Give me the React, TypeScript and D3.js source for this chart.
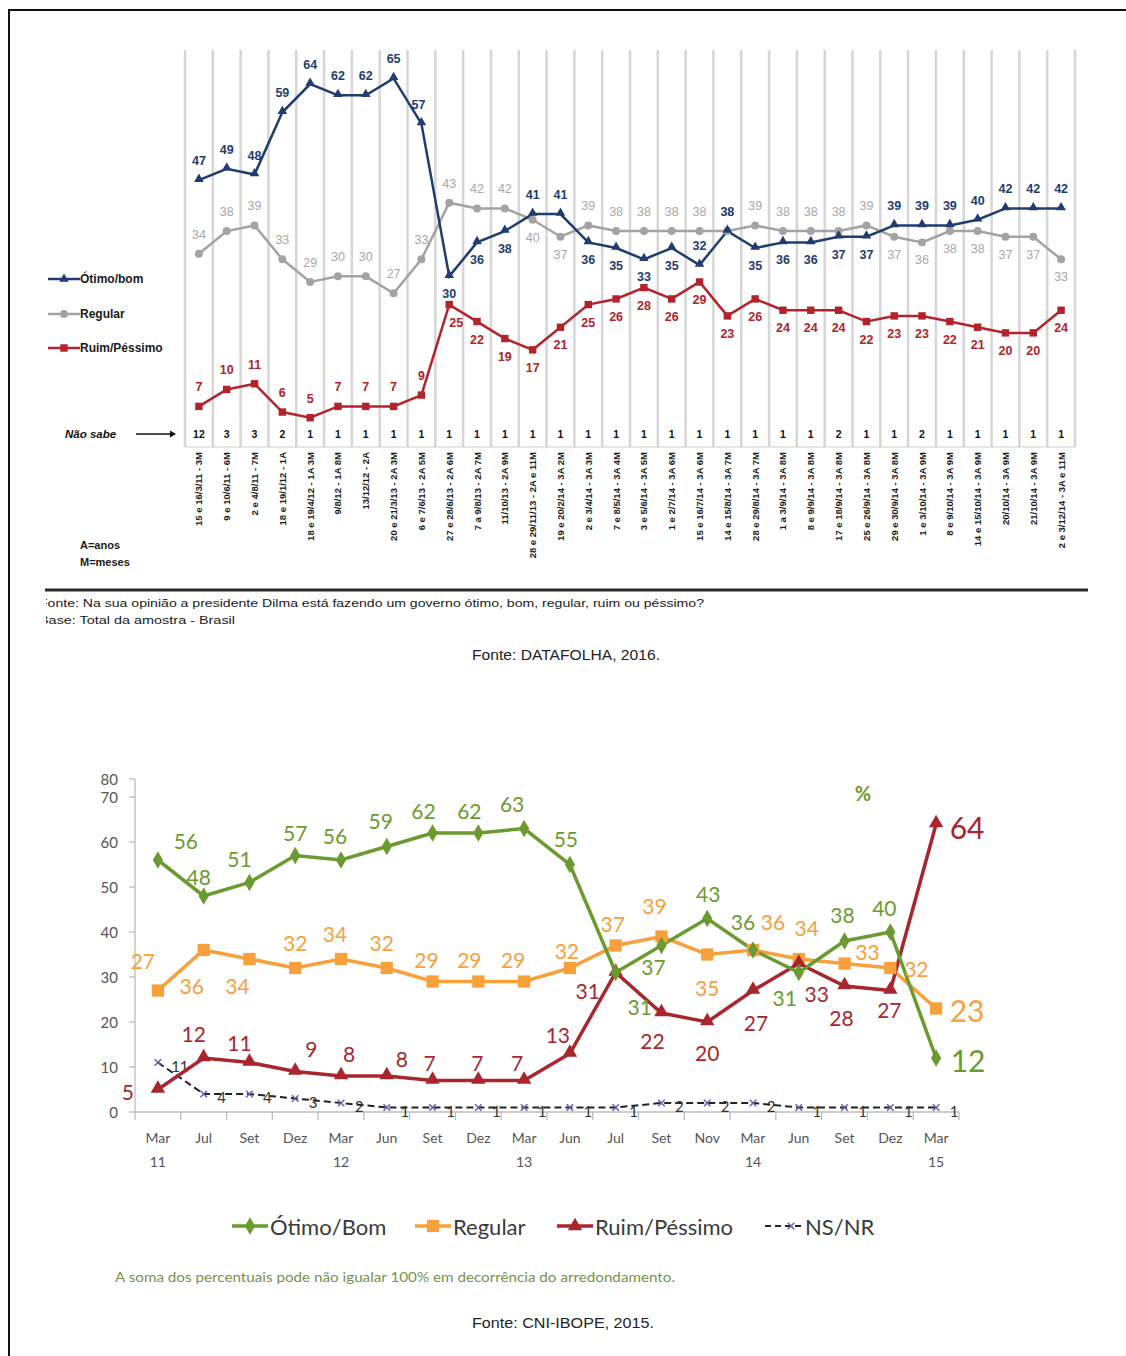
import React from "react";
import * as d3 from "d3";

// ---------- Top chart data (Datafolha) ----------
const topDates = [
  "15 e 16/3/11 - 3M", "9 e 10/6/11 - 6M", "2 e 4/8/11 - 7M", "18 e 19/1/12 - 1A",
  "18 e 19/4/12 - 1A 3M", "9/8/12 - 1A 8M", "13/12/12 - 2A", "20 e 21/3/13 - 2A 3M",
  "6 e 7/6/13 - 2A 5M", "27 e 28/6/13 - 2A 6M", "7 a 9/8/13 - 2A 7M", "11/10/13 - 2A 9M",
  "28 e 29/11/13 - 2A e 11M", "19 e 20/2/14 - 3A 2M", "2 e 3/4/14 - 3A 3M", "7 e 8/5/14 - 3A 4M",
  "3 e 5/6/14 - 3A 5M", "1 e 2/7/14 - 3A 6M", "15 e 16/7/14 - 3A 6M", "14 e 15/8/14 - 3A 7M",
  "28 e 29/8/14 - 3A 7M", "1 a 3/9/14 - 3A 8M", "8 e 9/9/14 - 3A 8M", "17 e 18/9/14 - 3A 8M",
  "25 e 26/9/14 - 3A 8M", "29 e 30/9/14 - 3A 8M", "1 e 3/10/14 - 3A 9M", "8 e 9/10/14 - 3A 9M",
  "14 e 15/10/14 - 3A 9M", "20/10/14 - 3A 9M", "21/10/14 - 3A 9M", "2 e 3/12/14 - 3A e 11M",
];
const topOtimo = [47, 49, 48, 59, 64, 62, 62, 65, 57, 30, 36, 38, 41, 41, 36, 35, 33, 35, 32, 38, 35, 36, 36, 37, 37, 39, 39, 39, 40, 42, 42, 42];
const topRegular = [34, 38, 39, 33, 29, 30, 30, 27, 33, 43, 42, 42, 40, 37, 39, 38, 38, 38, 38, 38, 39, 38, 38, 38, 39, 37, 36, 38, 38, 37, 37, 33];
const topRuim = [7, 10, 11, 6, 5, 7, 7, 7, 9, 25, 22, 19, 17, 21, 25, 26, 28, 26, 29, 23, 26, 24, 24, 24, 22, 23, 23, 22, 21, 20, 20, 24];
const topNaoSabe = [12, 3, 3, 2, 1, 1, 1, 1, 1, 1, 1, 1, 1, 1, 1, 1, 1, 1, 1, 1, 1, 1, 1, 2, 1, 1, 2, 1, 1, 1, 1, 1];
const topSeriesNames = ["Ótimo/bom", "Regular", "Ruim/Péssimo"];

// ---------- Bottom chart data (CNI-IBOPE) ----------
const bottomMonths = ["Mar", "Jul", "Set", "Dez", "Mar", "Jun", "Set", "Dez", "Mar", "Jun", "Jul", "Set", "Nov", "Mar", "Jun", "Set", "Dez", "Mar"];
const bottomYears = ["11", "", "", "", "12", "", "", "", "13", "", "", "", "", "14", "", "", "", "15"];
const bottomOtimo = [56, 48, 51, 57, 56, 59, 62, 62, 63, 55, 31, 37, 43, 36, 31, 38, 40, 12];
const bottomRegular = [27, 36, 34, 32, 34, 32, 29, 29, 29, 32, 37, 39, 35, 36, 34, 33, 32, 23];
const bottomRuim = [5, 12, 11, 9, 8, 8, 7, 7, 7, 13, 31, 22, 20, 27, 33, 28, 27, 64];
const bottomNsNr = [11, 4, 4, 3, 2, 1, 1, 1, 1, 1, 1, 2, 2, 2, 1, 1, 1, 1];
const bottomYTicks = [0, 10, 20, 30, 40, 50, 60, 70, 80];
const bottomSeriesNames = ["Ótimo/Bom", "Regular", "Ruim/Péssimo", "NS/NR"];

// ---------- Layout (label placement) ----------
const topOtimoPlace = "aaaaaaaaabbbaabbbbaabbbbbaaaaaaa";
const topRegularPlace = "aaaaaaaaaaaabbaaaaaaaaaaabbbbbbb";
const topRuimPlace = "aaaaaaaaabbbbbbbbbbbbbbbbbbbbbbb";

const gOff: [number, number][] = [[28, -20], [-5, -20], [-10, -24], [0, -23], [-6, -25], [-6, -26], [-9, -23], [-9, -23], [-12, -25], [-4, -26], [24, 34], [-8, 21], [1, -25], [-10, -29], [-14, 25], [-2, -27], [-6, -25], [32, 2]];
const oOff: [number, number][] = [[-15, -30], [-12, 35], [-12, 26], [0, -26], [-6, -26], [-5, -26], [-6, -22], [-9, -22], [-11, -22], [-3, -18], [-3, -22], [-7, -31], [0, 33], [20, -29], [8, -32], [23, -12], [26, 0], [31, 1]];
const rOff: [number, number][] = [[-30, 2], [-10, -25], [-10, -20], [16, -23], [8, -23], [15, -18], [-3, -18], [-1, -18], [-7, -18], [-12, -19], [-28, 18], [-9, 27], [0, 30], [3, 32], [18, 30], [-3, 31], [-1, 19], [31, 3]];

const BLUE = "#1f3d6f";
const GRAY = "#a3a3a3";
const RED_T = "#b2232b";
const GREEN = "#6b9b30";
const ORANGE = "#f8a03c";
const RED_B = "#a8262e";

const ARIAL = "'Liberation Sans', Arial, sans-serif";
const CAL = "Lato, 'Open Sans', sans-serif";

export default function App() {
  // ---- top scales
  const xT = d3.scaleBand<string>().domain(topDates).range([185, 1075]);
  const cxT = (i: number) => (xT(topDates[i]) as number) + xT.bandwidth() / 2;
  const yT = d3.scaleLinear().domain([0, 64]).range([446, 84]);
  const lineT = (vals: number[]) =>
    d3.line<number>().x((_, i) => cxT(i)).y((v) => yT(v))(vals) as string;
  const gridXs = d3.range(topDates.length + 1).map((i) => xT.range()[0] + i * xT.step());

  const tri = d3.symbol(d3.symbolTriangle, 40)() as string;
  const circ = d3.symbol(d3.symbolCircle, 50)() as string;
  const sq = d3.symbol(d3.symbolSquare, 55)() as string;

  // ---- bottom scales
  const idx = bottomMonths.map((_, i) => String(i));
  const xB = d3.scaleBand<string>().domain(idx).range([135, 959]);
  const cxB = (i: number) => (xB(String(i)) as number) + xB.bandwidth() / 2;
  const yB = d3.scaleLinear().domain([0, 70, 80]).range([1112, 797, 779]);
  const lineB = (vals: number[]) =>
    d3.line<number>().x((_, i) => cxB(i)).y((v) => yB(v))(vals) as string;
  const bTicksX = d3.range(bottomMonths.length + 1).map((i) => xB.range()[0] + i * xB.step());

  const diamondB = d3.symbol(d3.symbolDiamond, 90)() as string;
  const squareB = d3.symbol(d3.symbolSquare, 150)() as string;
  const triB = d3.symbol(d3.symbolTriangle, 90)() as string;
  const timesB = d3.symbol(d3.symbolTimes, 30)() as string;

  const topLabels = (vals: number[], place: string, color: string, weight: string, keyP: string) =>
    vals.map((v, i) => (
      <text
        key={keyP + i}
        x={cxT(i) + (keyP === "r" && i === 9 ? 7 : 0) + (keyP === "g" && i === 8 ? -3 : 0)}
        y={yT(v) + (place[i] === "a" ? -19 : 18)}
        textAnchor="middle"
        dominantBaseline="central"
        fontFamily={ARIAL}
        fontWeight={weight}
        fontSize={12.5}
        fill={color}
      >
        {v}
      </text>
    ));

  const bottomLabels = (vals: number[], off: [number, number][], color: string, keyP: string) =>
    vals.map((v, i) => (
      <text
        key={keyP + i}
        x={cxB(i) + off[i][0]}
        y={yB(v) + off[i][1]}
        textAnchor="middle"
        dominantBaseline="central"
        fontFamily={CAL}
        fontSize={i === vals.length - 1 ? 30 : 21}
        fill={color}
      >
        {v}
      </text>
    ));

  return (
    <svg
      width={1126}
      height={1356}
      style={{ position: "absolute", left: 0, top: 0, display: "block", background: "#fff" }}
    >
      <defs>
        <clipPath id="srcClip">
          <rect x={46} y={590} width={1000} height={40} />
        </clipPath>
      </defs>
      <rect x={0} y={0} width={1126} height={1356} fill="#fff" />
      {/* outer frame */}
      <rect x={9} y={10} width={1140} height={1380} fill="none" stroke="#111" strokeWidth={2} />

      {/* ================= TOP CHART ================= */}
      {gridXs.map((x, i) => (
        <line key={"gx" + i} x1={x} x2={x} y1={50} y2={447} stroke="#d6d6d6" strokeWidth={2.5} />
      ))}
      <line x1={185} x2={1075} y1={447} y2={447} stroke="#cfcfcf" strokeWidth={1} />

      {/* lines */}
      <path d={lineT(topRegular)} fill="none" stroke={GRAY} strokeWidth={2.5} />
      <path d={lineT(topRuim)} fill="none" stroke={RED_T} strokeWidth={2.5} />
      <path d={lineT(topOtimo)} fill="none" stroke={BLUE} strokeWidth={2.5} />
      {topRegular.map((v, i) => (
        <path key={"mg" + i} d={circ} transform={`translate(${cxT(i)},${yT(v)})`} fill={GRAY} />
      ))}
      {topRuim.map((v, i) => (
        <path key={"mr" + i} d={sq} transform={`translate(${cxT(i)},${yT(v)})`} fill={RED_T} />
      ))}
      {topOtimo.map((v, i) => (
        <path key={"mb" + i} d={tri} transform={`translate(${cxT(i)},${yT(v) - 1})`} fill={BLUE} />
      ))}

      {topLabels(topRegular, topRegularPlace, "#a8a8a8", "normal", "g2")}
      {topLabels(topRuim, topRuimPlace, RED_T, "bold", "r")}
      {topLabels(topOtimo, topOtimoPlace, BLUE, "bold", "g")}

      {/* Não sabe row */}
      {topNaoSabe.map((v, i) => (
        <text key={"ns" + i} x={cxT(i)} y={434} textAnchor="middle" dominantBaseline="central"
          fontFamily={ARIAL} fontWeight="bold" fontSize={10.5} fill="#111">{v}</text>
      ))}
      <text x={65} y={434} dominantBaseline="central" fontFamily={ARIAL} fontWeight="bold" fontStyle="italic" fontSize={11.5} fill="#111">Não sabe</text>
      <line x1={136} x2={170} y1={434} y2={434} stroke="#111" strokeWidth={1.3} />
      <path d="M170,430.5 L176,434 L170,437.5 Z" fill="#111" />

      {/* rotated date labels */}
      {topDates.map((d, i) => (
        <text key={"td" + i} transform={`translate(${cxT(i)},452) rotate(-90)`} textAnchor="end"
          dominantBaseline="central" fontFamily={ARIAL} fontWeight="bold" fontSize={9.5} fill="#1a1a1a">{d}</text>
      ))}

      {/* top legend */}
      {topSeriesNames.map((name, i) => {
        const y = [279, 314, 348][i];
        const c = [BLUE, GRAY, RED_T][i];
        const m = [tri, circ, sq][i];
        return (
          <g key={"tl" + i}>
            <line x1={48} x2={80} y1={y} y2={y} stroke={c} strokeWidth={2.5} />
            <path d={m} transform={`translate(64,${y})`} fill={c} />
            <text x={80} y={y} dominantBaseline="central" fontFamily={ARIAL} fontWeight="bold" fontSize={12} fill="#1a1a1a">{name}</text>
          </g>
        );
      })}
      <text x={80} y={545} dominantBaseline="central" fontFamily={ARIAL} fontWeight="bold" fontSize={11} fill="#1a1a1a">A=anos</text>
      <text x={80} y={562} dominantBaseline="central" fontFamily={ARIAL} fontWeight="bold" fontSize={11} fill="#1a1a1a">M=meses</text>

      <line x1={45} x2={1088} y1={590} y2={590} stroke="#2a2a2a" strokeWidth={3} />
      <g clipPath="url(#srcClip)">
        <text x={39} y={603} dominantBaseline="central" fontFamily={ARIAL} fontSize={11} fill="#1a1a1a" textLength={665} lengthAdjust="spacingAndGlyphs">
          Fonte: Na sua opinião a presidente Dilma está fazendo um governo ótimo, bom, regular, ruim ou péssimo?
        </text>
        <text x={39} y={620} dominantBaseline="central" fontFamily={ARIAL} fontSize={11} fill="#1a1a1a" textLength={196} lengthAdjust="spacingAndGlyphs">
          Base: Total da amostra - Brasil
        </text>
      </g>
      <text x={566} y={655} textAnchor="middle" dominantBaseline="central" fontFamily={ARIAL} fontSize={14} fill="#222" textLength={188} lengthAdjust="spacingAndGlyphs">
        Fonte: DATAFOLHA, 2016.
      </text>

      {/* ================= BOTTOM CHART ================= */}
      <line x1={135} x2={135} y1={yB(80)} y2={yB(0)} stroke="#bdbdbd" strokeWidth={1.3} />
      {bottomYTicks.map((t) => (
        <g key={"yt" + t}>
          <line x1={129} x2={135} y1={yB(t)} y2={yB(t)} stroke="#bdbdbd" strokeWidth={1.3} />
          <text x={118} y={yB(t)} textAnchor="end" dominantBaseline="central" fontFamily={CAL} fontSize={15} fill="#555">{t}</text>
        </g>
      ))}
      <line x1={135} x2={959} y1={1112} y2={1112} stroke="#bdbdbd" strokeWidth={1.3} />
      {bTicksX.map((x, i) => (
        <line key={"xt" + i} x1={x} x2={x} y1={1112} y2={1120} stroke="#bdbdbd" strokeWidth={1.3} />
      ))}
      {bottomMonths.map((m, i) => (
        <g key={"xm" + i}>
          <text x={cxB(i)} y={1137} textAnchor="middle" dominantBaseline="central" fontFamily={CAL} fontSize={14} fill="#555">{m}</text>
          {bottomYears[i] && (
            <text x={cxB(i)} y={1161} textAnchor="middle" dominantBaseline="central" fontFamily={CAL} fontSize={14} fill="#555">{bottomYears[i]}</text>
          )}
        </g>
      ))}

      {/* NS/NR */}
      <path d={lineB(bottomNsNr)} fill="none" stroke="#222" strokeWidth={2} strokeDasharray="7,4" />
      {bottomNsNr.map((v, i) => (
        <path key={"mn" + i} d={timesB} transform={`translate(${cxB(i)},${yB(v)})`} stroke="#6b5fb0" strokeWidth={1.5} fill="none" />
      ))}
      {bottomNsNr.map((v, i) => (
        <text key={"ln" + i} x={cxB(i) + (i === 0 ? 22 : 18)} y={yB(v) + 3} textAnchor="middle" dominantBaseline="central"
          fontFamily={CAL} fontSize={15} fill="#333">{v}</text>
      ))}

      <path d={lineB(bottomRegular)} fill="none" stroke={ORANGE} strokeWidth={3.5} />
      <path d={lineB(bottomRuim)} fill="none" stroke={RED_B} strokeWidth={3.5} />
      <path d={lineB(bottomOtimo)} fill="none" stroke={GREEN} strokeWidth={3.5} />
      {bottomRegular.map((v, i) => (
        <path key={"mo" + i} d={squareB} transform={`translate(${cxB(i)},${yB(v)})`} fill={ORANGE} />
      ))}
      {bottomRuim.map((v, i) => (
        <path key={"mrb" + i} d={triB} transform={`translate(${cxB(i)},${yB(v) - 1})`} fill={RED_B} />
      ))}
      {bottomOtimo.map((v, i) => (
        <path key={"mgb" + i} d={diamondB} transform={`translate(${cxB(i)},${yB(v)})`} fill={GREEN} />
      ))}

      {bottomLabels(bottomRegular, oOff, ORANGE, "lo")}
      {bottomLabels(bottomRuim, rOff, RED_B, "lr")}
      {bottomLabels(bottomOtimo, gOff, GREEN, "lg")}

      <text x={863} y={793} textAnchor="middle" dominantBaseline="central" fontFamily={CAL} fontWeight="bold" fontSize={20} fill={GREEN}>%</text>

      {/* bottom legend */}
      {bottomSeriesNames.map((name, i) => {
        const x0 = [232, 415, 557, 765][i];
        const c = [GREEN, ORANGE, RED_B, "#222"][i];
        const m = [diamondB, squareB, triB, timesB][i];
        const y = 1226;
        return (
          <g key={"bl" + i}>
            <line x1={x0} x2={x0 + 36} y1={y} y2={y} stroke={c} strokeWidth={i === 3 ? 2 : 3.5} strokeDasharray={i === 3 ? "6,4" : undefined} />
            {i === 3 ? (
              <path d={m} transform={`translate(${x0 + 26},${y})`} stroke="#6b5fb0" strokeWidth={1.5} fill="none" />
            ) : (
              <path d={m} transform={`translate(${x0 + 18},${y})`} fill={c} />
            )}
            <text x={x0 + (i === 3 ? 40 : 38)} y={y} dominantBaseline="central" fontFamily={CAL} fontSize={22} fill="#3a3a3a">{name}</text>
          </g>
        );
      })}
      <text x={115} y={1277} dominantBaseline="central" fontFamily={CAL} fontSize={13} fill="#76924a" textLength={560} lengthAdjust="spacingAndGlyphs">
        A soma dos percentuais pode não igualar 100% em decorrência do arredondamento.
      </text>
      <text x={563} y={1323} textAnchor="middle" dominantBaseline="central" fontFamily={ARIAL} fontSize={14} fill="#222" textLength={182} lengthAdjust="spacingAndGlyphs">
        Fonte: CNI-IBOPE, 2015.
      </text>
    </svg>
  );
}
